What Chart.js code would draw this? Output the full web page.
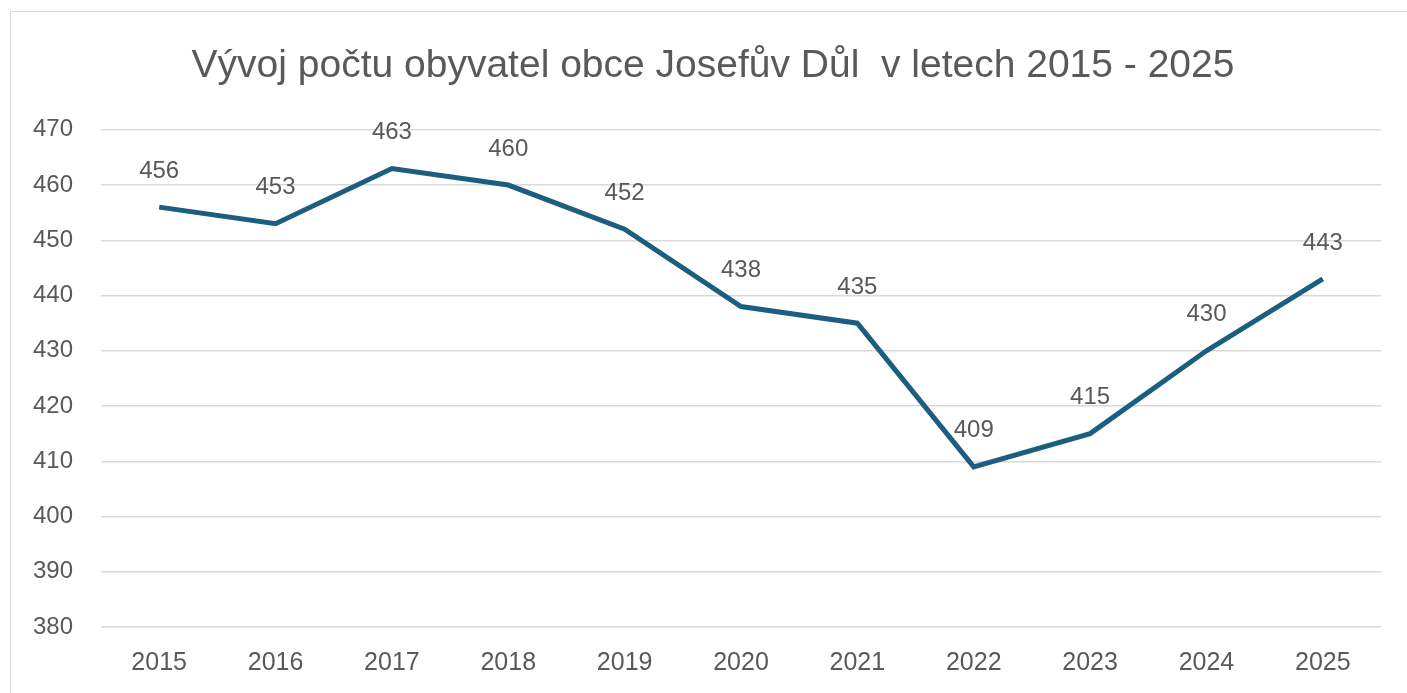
<!DOCTYPE html>
<html>
<head>
<meta charset="utf-8">
<script src="https://cdn.jsdelivr.net/npm/chart.js@4/dist/chart.umd.min.js"></script>
<style>
  body { margin: 0; background: #fff; overflow: hidden; }
  .frame { position: absolute; left: 10px; top: 11px; width: 1420px; height: 700px; border: 1px solid #d9d9d9; }
  #chart { position: absolute; left: 0; top: 0; }
</style>
</head>
<body>
<div class="frame"></div>
<canvas id="chart" width="1407" height="693"></canvas>
<script>
// Data
const years = ['2015', '2016', '2017', '2018', '2019', '2020', '2021', '2022', '2023', '2024', '2025'];
const population = [456, 453, 463, 460, 452, 438, 435, 409, 415, 430, 443];
const yTicks = [380, 390, 400, 410, 420, 430, 440, 450, 460, 470];

const textColor = '#595959';
const fontFamily = '"Liberation Sans", Arial, sans-serif';

// Value labels above each point
const pointLabels = {
    id: 'pointLabels',
    afterLayout(chart) {
        // centre the title a bit right of the axis block, like the original
        if (chart.titleBlock) chart.titleBlock.left = 45;
    },
    afterDatasetsDraw(chart) {
        const ctx = chart.ctx;
        const meta = chart.getDatasetMeta(0);
        ctx.save();
        ctx.font = '24px ' + fontFamily;
        ctx.fillStyle = textColor;
        ctx.textAlign = 'center';
        ctx.textBaseline = 'bottom';
        meta.data.forEach((pt, i) => {
            ctx.fillText(String(population[i]), pt.x, pt.y - 24);
        });
        ctx.restore();
    }
};

const ctx = document.getElementById('chart').getContext('2d');
const myChart = new Chart(ctx, {
    type: 'line',
    data: {
        labels: years,
        datasets: [{
            label: 'Počet obyvatel',
            data: population,
            borderColor: '#1b5e80',
            borderWidth: 5,
            pointRadius: 0,
            tension: 0,
            fill: false
        }]
    },
    options: {
        responsive: false,
        animation: false,
        layout: { padding: { left: 28, right: 26, top: 0, bottom: 16 } },
        plugins: {
            legend: { display: false },
            tooltip: { enabled: false },
            title: {
                display: true,
                text: 'Vývoj počtu obyvatel obce Josefův Důl  v letech 2015 - 2025',
                color: textColor,
                font: { family: fontFamily, size: 39, weight: 'normal' },
                padding: { top: 43, bottom: 40 }
            }
        },
        scales: {
            x: {
                offset: true,
                grid: { display: false, drawTicks: false },
                border: { display: false },
                ticks: { color: textColor, font: { family: fontFamily, size: 25 }, padding: 21 },
                afterFit: axis => { axis.height = 50; }
            },
            y: {
                min: yTicks[0],
                max: yTicks[yTicks.length - 1],
                afterBuildTicks: axis => { axis.ticks = yTicks.map(v => ({ value: v })); },
                grid: { color: '#d9d9d9', lineWidth: 1.5, drawTicks: false },
                border: { display: false },
                ticks: { color: textColor, font: { family: fontFamily, size: 24 }, padding: 28 },
                afterFit: axis => { axis.width = 73; }
            }
        }
    },
    plugins: [pointLabels]
});
</script>
</body>
</html>
